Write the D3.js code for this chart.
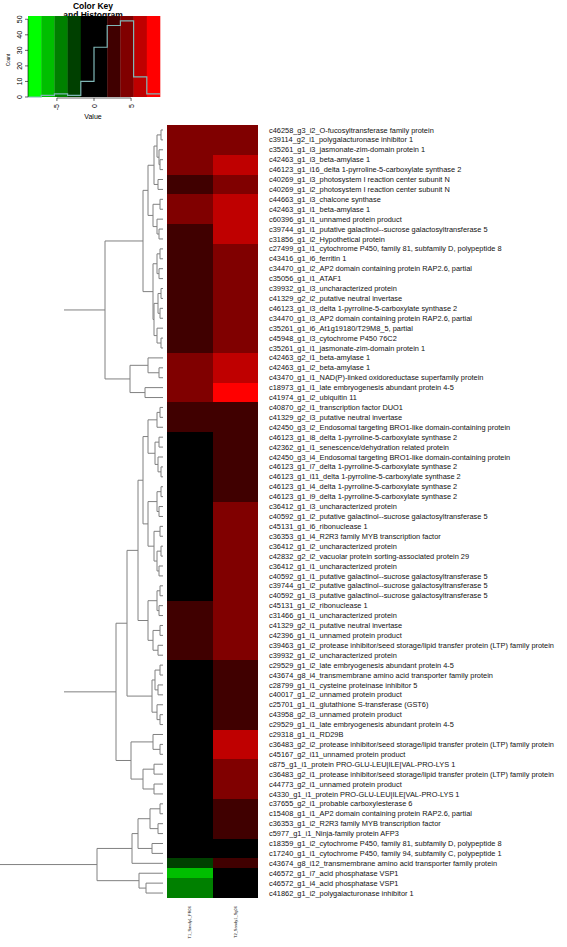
<!DOCTYPE html>
<html><head><meta charset="utf-8">
<script src="https://cdn.jsdelivr.net/npm/d3@7"></script>
<style>
body{margin:0;background:#fff}
svg{display:block}
text{font-family:"Liberation Sans",Arial,Helvetica,sans-serif}
</style>
</head><body>
<svg id="chart" width="567" height="947"></svg>
<script>
// ---------------- DATA ----------------
const rowLabels = [
"c46258_g3_i2_O-fucosyltransferase family protein",
"c39114_g2_i1_polygalacturonase inhibitor 1",
"c35261_g1_i3_jasmonate-zim-domain protein 1",
"c42463_g1_i3_beta-amylase 1",
"c46123_g1_i16_delta 1-pyrroline-5-carboxylate synthase 2",
"c40269_g1_i3_photosystem I reaction center subunit N",
"c40269_g1_i2_photosystem I reaction center subunit N",
"c44663_g1_i3_chalcone synthase",
"c42463_g1_i1_beta-amylase 1",
"c60396_g1_i1_unnamed protein product",
"c39744_g1_i1_putative galactinol--sucrose galactosyltransferase 5",
"c31856_g1_i2_Hypothetical protein",
"c27499_g1_i1_cytochrome P450, family 81, subfamily D, polypeptide 8",
"c43416_g1_i6_ferritin 1",
"c34470_g1_i2_AP2 domain containing protein RAP2.6, partial",
"c35056_g1_i1_ATAF1",
"c39932_g1_i3_uncharacterized protein",
"c41329_g2_i2_putative neutral invertase",
"c46123_g1_i3_delta 1-pyrroline-5-carboxylate synthase 2",
"c34470_g1_i3_AP2 domain containing protein RAP2.6, partial",
"c35261_g1_i6_At1g19180/T29M8_5, partial",
"c45948_g1_i3_cytochrome P450 76C2",
"c35261_g1_i1_jasmonate-zim-domain protein 1",
"c42463_g2_i1_beta-amylase 1",
"c42463_g1_i2_beta-amylase 1",
"c43470_g1_i1_NAD(P)-linked oxidoreductase superfamily protein",
"c18973_g1_i1_late embryogenesis abundant protein 4-5",
"c41974_g1_i2_ubiquitin 11",
"c40870_g2_i1_transcription factor DUO1",
"c41329_g2_i3_putative neutral invertase",
"c42450_g3_i2_Endosomal targeting BRO1-like domain-containing protein",
"c46123_g1_i8_delta 1-pyrroline-5-carboxylate synthase 2",
"c42362_g1_i1_senescence/dehydration related protein",
"c42450_g3_i4_Endosomal targeting BRO1-like domain-containing protein",
"c46123_g1_i7_delta 1-pyrroline-5-carboxylate synthase 2",
"c46123_g1_i11_delta 1-pyrroline-5-carboxylate synthase 2",
"c46123_g1_i4_delta 1-pyrroline-5-carboxylate synthase 2",
"c46123_g1_i9_delta 1-pyrroline-5-carboxylate synthase 2",
"c36412_g1_i3_uncharacterized protein",
"c40592_g1_i2_putative galactinol--sucrose galactosyltransferase 5",
"c45131_g1_i6_ribonuclease 1",
"c36353_g1_i4_R2R3 family MYB transcription factor",
"c36412_g1_i2_uncharacterized protein",
"c42832_g2_i2_vacuolar protein sorting-associated protein 29",
"c36412_g1_i1_uncharacterized protein",
"c40592_g1_i1_putative galactinol--sucrose galactosyltransferase 5",
"c39744_g1_i2_putative galactinol--sucrose galactosyltransferase 5",
"c40592_g1_i3_putative galactinol--sucrose galactosyltransferase 5",
"c45131_g1_i2_ribonuclease 1",
"c31466_g1_i1_uncharacterized protein",
"c41329_g2_i1_putative neutral invertase",
"c42396_g1_i1_unnamed protein product",
"c39463_g1_i2_protease inhibitor/seed storage/lipid transfer protein (LTP) family protein",
"c39932_g1_i2_uncharacterized protein",
"c29529_g1_i2_late embryogenesis abundant protein 4-5",
"c43674_g8_i4_transmembrane amino acid transporter family protein",
"c28799_g1_i1_cysteine proteinase inhibitor 5",
"c40017_g1_i2_unnamed protein product",
"c25701_g1_i1_glutathione S-transferase (GST6)",
"c43958_g2_i3_unnamed protein product",
"c29529_g1_i1_late embryogenesis abundant protein 4-5",
"c29318_g1_i1_RD29B",
"c36483_g2_i2_protease inhibitor/seed storage/lipid transfer protein (LTP) family protein",
"c45167_g2_i11_unnamed protein product",
"c875_g1_i1_protein PRO-GLU-LEU|ILE|VAL-PRO-LYS 1",
"c36483_g2_i1_protease inhibitor/seed storage/lipid transfer protein (LTP) family protein",
"c44773_g2_i1_unnamed protein product",
"c4330_g1_i1_protein PRO-GLU-LEU|ILE|VAL-PRO-LYS 1",
"c37655_g2_i1_probable carboxylesterase 6",
"c15408_g1_i1_AP2 domain containing protein RAP2.6, partial",
"c36353_g1_i2_R2R3 family MYB transcription factor",
"c5977_g1_i1_Ninja-family protein AFP3",
"c18359_g1_i2_cytochrome P450, family 81, subfamily D, polypeptide 8",
"c17240_g1_i1_cytochrome P450, family 94, subfamily C, polypeptide 1",
"c43674_g8_i12_transmembrane amino acid transporter family protein",
"c46572_g1_i7_acid phosphatase VSP1",
"c46572_g1_i4_acid phosphatase VSP1",
"c41862_g1_i2_polygalacturonase inhibitor 1"
];

const columnLabels = ["T1_Sandy1_FR06", "T2_Sandy1_Sg06"];

// log2 fold-change estimates, column 1
const col1Values = [
4.6,4.2,4.4,4.9,4.1, 2.9,3.2, 4.3,4.7,4.0,
3.1,2.7,3.3,2.5,3.0,2.8,3.4,2.6,3.2,2.9,3.0,2.4,3.3,
4.5,4.8,4.2,4.6,5.0, 2.8,2.3,2.6,
0.9,1.2,0.6,1.5,0.8,1.1,0.4,1.3,0.7,1.0,1.6,0.5,1.2,0.9,1.4,0.3,1.1,
2.2,2.7,2.4,3.0,2.1,2.5,
0.6,1.0,0.8,1.3,0.5,0.9,1.2,1.5,0.7,1.1,0.4,1.4,0.9,0.6,1.0,
-0.4,-0.8,-0.3,-1.1,-0.6,
-2.6,-6.3,-4.6,-4.3
];
// log2 fold-change estimates, column 2
const col2Values = [
4.7,4.5,5.0, 6.1,6.4, 4.4,4.8, 6.5,6.2,6.8,5.9,6.3,
4.6,4.9,4.3,5.1,4.7,4.4,5.0,4.8,4.2,4.6,4.9,
6.0,6.6,6.3, 7.6,8.2,
2.7,3.1,2.5,2.9,3.3,2.6,3.0,2.8,3.2,2.4,
4.5,4.8,4.3,5.0,4.6,4.1,4.9,4.4,4.7,5.2,4.5,4.8,4.2,4.6,4.9,4.3,
2.6,3.0,2.3,3.4,2.8,3.1,2.5,
6.7,6.2,5.8,
4.4,4.9,4.6,4.1,
2.5,3.0,2.7,2.2,
-0.5,-0.9, 2.3, -0.7,-0.4,-1.0
];

const keyRange = [-8.9, 8.9];
const keyColors = ["#00FF00","#00BF00","#008000","#004000","#000000","#000000","#400000","#800000","#BF0000","#FF0000"];
const keyTicksX = [-5, 0, 5];
const keyTicksY = [0, 10, 20, 30, 40, 50];

// row dendrogram: [height, left, right], leaves = row index
const rowTree =
[16.3,
  [9.9,
    [5.8,
      [2.0,
        [1.5,
          [0.9, [0.6, [0.2, 0, 1], [0.4, 2, [0.3, 3, 4]]], [0.5, 5, 6]],
          [1.0, [0.3, 7, 8], [0.6, 9, [0.4, 10, 11]]]
        ],
        [1.0, [0.6, [0.3, 12, 13], [0.4, 14, 15]],
              [0.9, [0.5, [0.2, 16, 17], [0.3, 18, 19]], [0.6, 20, [0.2, 21, 22]]]]
      ],
      [3.3, [1.5, 23, [0.4, 24, 25]], [1.8, 26, 27]]
    ],
    [4.7,
      [3.6,
        [2.5,
          [2.0,
            [1.5, [0.6, [0.3, 28, 29], 30], [0.8, [0.4, 31, 32], [0.5, 33, [0.2, 34, 35]]]],
            [1.5, [0.6, [0.2, 36, 37], [0.4, 38, 39]], [0.9, [0.3, 40, 41], [0.6, [0.2, 42, 43], [0.4, 44, 45]]]]
          ],
          [1.5, [0.6, [0.3, 46, 47], [0.4, 48, 49]], [1.0, [0.3, 50, 51], [0.5, 52, 53]]]
        ],
        [1.1, [0.8, [0.3, 54, 55], [0.5, 56, 57]], [0.6, 58, [0.3, 59, 60]]]
      ],
      [3.2, [1.0, 61, [0.3, 62, 63]], [2.0, [0.9, 64, 65], [0.9, 66, 67]]]
    ]
  ],
  [6.6,
    [3.1, [2.5, [1.3, [0.3, 68, 69], [0.5, 70, 71]], [1.1, 72, 73]], 74],
    [2.4, 75, [1.7, 76, 77]]
  ]
];

// ---------------- DRAWING ----------------
const svg = d3.select("#chart");
const W = 567, H = 947;
svg.append("rect").attr("width", W).attr("height", H).attr("fill", "#fff");

const nBins = keyColors.length;
const breaks = d3.range(nBins + 1).map(i => keyRange[0] + i * (keyRange[1] - keyRange[0]) / nBins);
const color = d3.scaleThreshold().domain(breaks.slice(1, -1)).range(keyColors);

// heatmap
const hm = {x0: 167, x1: 258, y0: 125, y1: 898};
const xBand = d3.scaleBand().domain(columnLabels).range([hm.x0, hm.x1]);
const yBand = d3.scaleBand().domain(d3.range(rowLabels.length)).range([hm.y0, hm.y1]);

const cells = [];
rowLabels.forEach((lab, i) => {
  cells.push({r: i, c: columnLabels[0], v: col1Values[i]});
  cells.push({r: i, c: columnLabels[1], v: col2Values[i]});
});

svg.append("g").selectAll("rect").data(cells).join("rect")
  .attr("x", d => xBand(d.c))
  .attr("y", d => yBand(d.r))
  .attr("width", xBand.bandwidth() + 0.4)
  .attr("height", yBand.bandwidth() + 0.4)
  .attr("fill", d => color(d.v))
  .attr("shape-rendering", "crispEdges");

// row labels
svg.append("g").selectAll("text").data(rowLabels).join("text")
  .attr("x", 269)
  .attr("y", (d, i) => yBand(i) + yBand.bandwidth() / 2)
  .attr("dy", "0.35em")
  .attr("font-size", 7.4)
  .attr("fill", "#111")
  .text(d => d);

// column labels
svg.append("g").selectAll("text").data(columnLabels).join("text")
  .attr("transform", d => `translate(${xBand(d) + xBand.bandwidth() / 2 + 1.5},906) rotate(-90)`)
  .attr("text-anchor", "end")
  .attr("font-size", 4)
  .attr("fill", "#222")
  .text(d => d);

// dendrogram
const hMax = rowTree[0];
const hx = d3.scaleLinear().domain([0, hMax]).range([163, 0]);
function build(node, depth) {
  if (typeof node === "number") return {leaf: true, h: 0, y: yBand(node) + yBand.bandwidth() / 2, depth, n: 1};
  const l = build(node[1], depth + 1), r = build(node[2], depth + 1);
  return {leaf: false, h: node[0], children: [l, r], y: (l.y + r.y) / 2, depth, n: l.n + r.n};
}
const root = build(rowTree, 0);
const hidden = n => !n.leaf && (n.depth === 0 || (n.depth === 1 && n.n > 20));
const segs = [];
(function walk(n) {
  if (n.leaf) return;
  if (!hidden(n)) segs.push([hx(n.h), n.children[0].y, hx(n.h), n.children[1].y]);
  n.children.forEach(c => {
    if (!(hidden(n) && hidden(c))) segs.push([hx(n.h), c.y, hx(c.h), c.y]);
    walk(c);
  });
})(root);
svg.append("g").selectAll("line").data(segs).join("line")
  .attr("x1", d => d[0]).attr("y1", d => d[1])
  .attr("x2", d => d[2]).attr("y2", d => d[3])
  .attr("stroke", "#808080").attr("stroke-width", 1);

// colour key + histogram
const kx = d3.scaleLinear().domain(keyRange).range([28, 160]);
const ky = d3.scaleLinear().domain([0, 52.1]).range([97, 16]);
const key = svg.append("g");
key.append("text").attr("x", 93).attr("y", 9).attr("text-anchor", "middle")
  .attr("font-size", 8.5).attr("font-weight", "bold").text("Color Key");
key.append("text").attr("x", 93).attr("y", 18).attr("text-anchor", "middle")
  .attr("font-size", 8.5).attr("font-weight", "bold").text("and Histogram");
key.selectAll("rect.band").data(d3.range(nBins)).join("rect")
  .attr("class", "band")
  .attr("x", i => kx(breaks[i])).attr("y", 16)
  .attr("width", i => kx(breaks[i + 1]) - kx(breaks[i]) + 0.3)
  .attr("height", 81)
  .attr("fill", i => keyColors[i]);

const allValues = col1Values.concat(col2Values);
const bins = d3.bin().domain(keyRange).thresholds(breaks.slice(1, -1))(allValues);
const counts = bins.map(b => b.length);
const stepPts = counts.map((c, i) => [breaks[i], c]).concat([[breaks[nBins], counts[nBins - 1]]]);
key.append("path")
  .attr("d", d3.line().x(d => kx(d[0])).y(d => ky(d[1])).curve(d3.curveStepAfter)(stepPts))
  .attr("fill", "none").attr("stroke", "#7fb7b7").attr("stroke-width", 1.2);

// y axis
const yAx = key.append("g");
yAx.append("line").attr("x1", 28).attr("x2", 28).attr("y1", ky(0)).attr("y2", ky(50)).attr("stroke", "#000").attr("stroke-width", 0.6);
yAx.selectAll("line.t").data(keyTicksY).join("line").attr("class", "t")
  .attr("x1", 25).attr("x2", 28).attr("y1", d => ky(d)).attr("y2", d => ky(d)).attr("stroke", "#000").attr("stroke-width", 0.6);
yAx.selectAll("text").data(keyTicksY).join("text")
  .attr("transform", d => `translate(22,${ky(d)}) rotate(-90)`)
  .attr("text-anchor", "middle").attr("font-size", 7).text(d => d);
key.append("text").attr("transform", "translate(10,60) rotate(-90)").attr("text-anchor", "middle")
  .attr("font-size", 4.5).text("Count");

// x axis
const xAx = key.append("g");
xAx.append("line").attr("x1", kx(-5)).attr("x2", kx(5)).attr("y1", 98).attr("y2", 98).attr("stroke", "#000").attr("stroke-width", 0.6);
xAx.selectAll("line.t").data(keyTicksX).join("line").attr("class", "t")
  .attr("x1", d => kx(d)).attr("x2", d => kx(d)).attr("y1", 98).attr("y2", 101).attr("stroke", "#000").attr("stroke-width", 0.6);
xAx.selectAll("text").data(keyTicksX).join("text")
  .attr("transform", d => `translate(${kx(d) + 2.5},104) rotate(-90)`)
  .attr("text-anchor", "end").attr("font-size", 7).text(d => d);
key.append("text").attr("x", 93).attr("y", 119).attr("text-anchor", "middle")
  .attr("font-size", 7).text("Value");
</script>
</body></html>
